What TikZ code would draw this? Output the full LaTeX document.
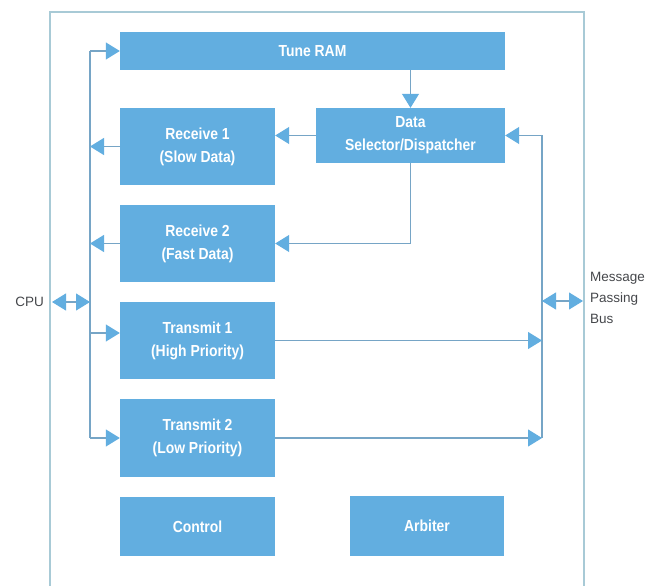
\documentclass[tikz,border=0pt]{standalone}
\usepackage{fontspec}
\setmainfont{Liberation Sans}
\newfontfamily\condfont{Liberation Sans}[FakeStretch=0.87]
\usetikzlibrary{arrows.meta}
\definecolor{boxblue}{RGB}{98,174,224}
\definecolor{linecol}{RGB}{118,165,198}
\definecolor{framecol}{RGB}{168,202,214}
\definecolor{labelcol}{RGB}{70,72,76}
\tikzset{
  blk/.style={rectangle, fill=boxblue, draw=none, text=white, align=center,
    font=\condfont\fontsize{16}{23}\selectfont\bfseries, inner sep=0pt},
  conn/.style={draw=linecol, line width=1.1pt},
  arr/.style={conn, -{Triangle[length=14pt,width=17pt,color=boxblue]}},
  dbl/.style={conn, {Triangle[length=14pt,width=17pt,color=boxblue]}-{Triangle[length=14pt,width=17pt,color=boxblue]}},
  lbl/.style={text=labelcol, inner sep=0pt, font=\fontsize{13.5}{21}\selectfont}
}
\begin{document}
\begin{tikzpicture}[x=1pt,y=-1pt]
\useasboundingbox (0,0) rectangle (657,586);
\fill[white] (0,0) rectangle (657,586);
% frame
\draw[framecol, line width=1.1pt] (50,586) -- (50,12) -- (584,12) -- (584,586);
% blocks
\node[blk, minimum width=385pt, minimum height=38pt] (tune) at (312.5,51) {Tune RAM};
\node[blk, minimum width=155pt, minimum height=77pt] (recv1) at (197.5,146.5) {Receive 1\\(Slow Data)};
\node[blk, minimum width=155pt, minimum height=77pt] (recv2) at (197.5,243.5) {Receive 2\\(Fast Data)};
\node[blk, minimum width=155pt, minimum height=77pt] (tx1) at (197.5,340.5) {Transmit 1\\(High Priority)};
\node[blk, minimum width=155pt, minimum height=78pt] (tx2) at (197.5,438) {Transmit 2\\(Low Priority)};
\node[blk, minimum width=155pt, minimum height=59pt] (ctrl) at (197.5,526.5) {Control};
\node[blk, minimum width=189pt, minimum height=55pt] (dsd) at (410.5,135.5) {Data\\Selector/Dispatcher};
\node[blk, minimum width=154pt, minimum height=60pt] (arb) at (427,526) {Arbiter};
% labels
\node[lbl, anchor=east] (cpu) at (44,302) {CPU};
\node[lbl, anchor=west, align=left] (mpb) at (590,298) {Message\\Passing\\Bus};
% bus coordinates
\coordinate (lt) at (90,51);
\coordinate (lb) at (90,438);
\coordinate (t1l) at (90,333);
\coordinate (rt) at (542,135.5);
\coordinate (rb) at (542,438);
\coordinate (mp) at (542,301);
% buses
\draw[conn] (lt) -- (lb);
\draw[conn] (rt) -- (rb);
% left side connectors
\draw[arr] (lt) -- (tune.west);
\draw[arr] (recv1.west) -- (recv1.west -| lt);
\draw[arr] (recv2.west) -- (recv2.west -| lt);
\draw[arr] (t1l) -- (t1l -| tx1.west);
\draw[arr] (lb) -- (tx2.west);
\draw[dbl, shorten <=8pt] (cpu.east) -- (cpu.east -| lt);
% internal
\draw[arr] (dsd.north |- tune.south) -- (dsd.north);
\draw[arr] (dsd.west) -- (dsd.west -| recv1.east);
\draw[arr] (dsd.south) |- (recv2.east);
% right side
\draw[arr] (rt) -- (dsd.east);
\draw[arr] (tx1.east) -- (tx1.east -| rt);
\draw[arr] (tx2.east) -- (rb);
\draw[dbl, shorten >=7pt] (mp) -- (mp -| mpb.west);
\end{tikzpicture}
\end{document}
